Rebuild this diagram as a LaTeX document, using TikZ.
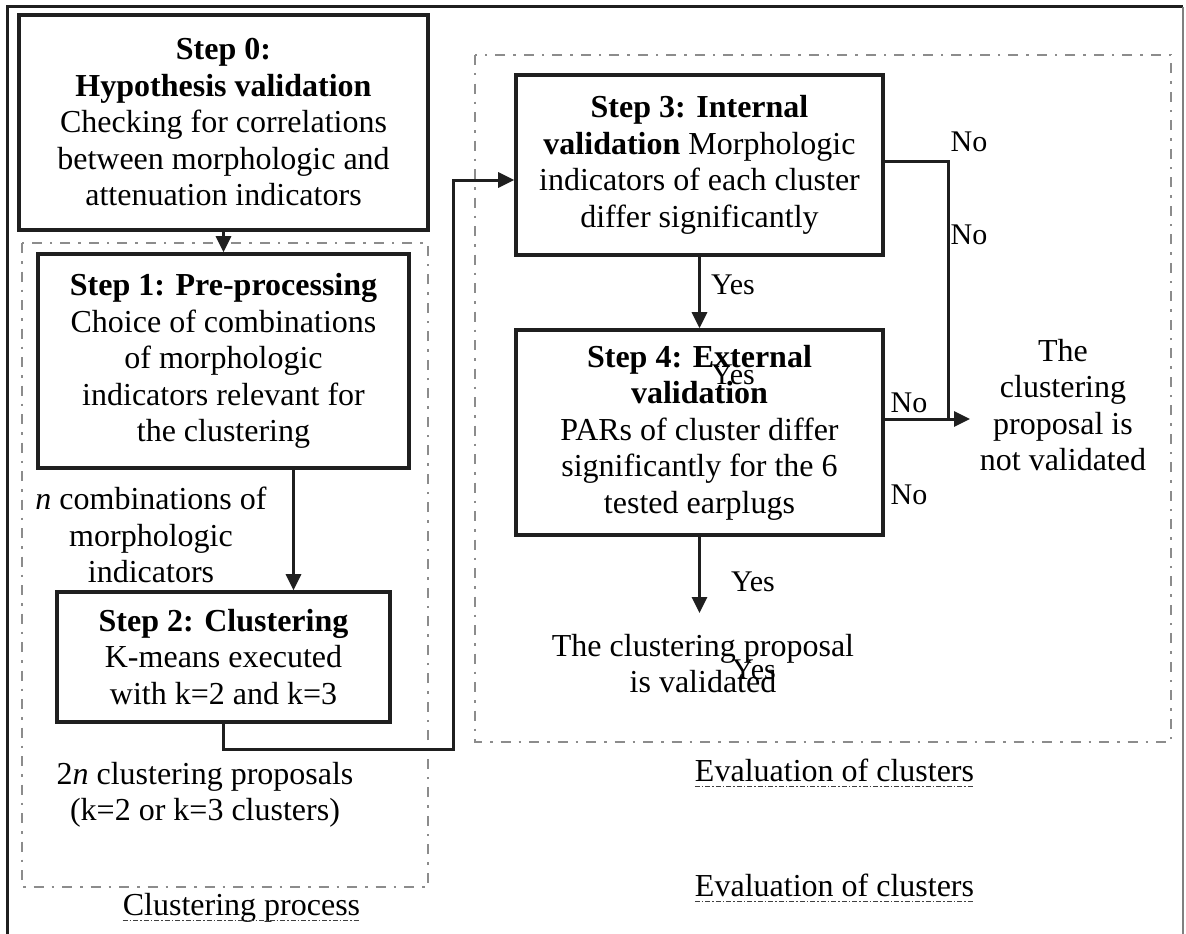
\documentclass[tikz,border=0pt]{standalone}
\usepackage{fontspec}
\setmainfont{Liberation Serif}
\usetikzlibrary{arrows.meta}

\tikzset{
  stepbox/.style={draw=black!88, line width=3.6pt, align=center, inner sep=0pt,
    font=\fontsize{32}{36.5}\selectfont},
  groupbox/.style={draw=black!45, line width=2.4pt,
    dash pattern=on 10pt off 8pt on 2.5pt off 8pt},
  conn/.style={draw=black!88, line width=3pt, -{Triangle[length=16pt,width=15pt]}},
  plain/.style={draw=black!88, line width=3pt},
  txt/.style={align=center, inner sep=0pt, font=\fontsize{32}{36.5}\selectfont},
  lbl/.style={inner sep=0pt, font=\fontsize{30}{34}\selectfont},
  uline/.style={draw=black!75, line width=1pt, dash pattern=on 5pt off 2pt on 1.5pt off 2pt},
}

\begin{document}
\begin{tikzpicture}[x=1pt,y=-1pt]
        \useasboundingbox (0,0) rectangle (1186,934);
        %% Frame
        \draw[black!88, line width=3pt] (7,934) -- (7,7) -- (1183,7);
        \draw[black!50, line width=2pt] (1183,7) -- (1183,934);
        %% Groups
        \draw[groupbox] (22,243) rectangle (428,887);
        \draw[groupbox] (475,55) rectangle (1171,742);
        \node[txt, anchor=base] (clusproc) at (241.5,915) {Clustering process};
        \draw[uline] ([yshift=-5pt]clusproc.base west) -- ([yshift=-5pt]clusproc.base east);
        \node[txt, anchor=base] (evalA) at (834.5,781) {Evaluation of clusters};
        \draw[uline] ([yshift=-5pt]evalA.base west) -- ([yshift=-5pt]evalA.base east);
        \node[txt, anchor=base] (evalB) at (834.5,896) {Evaluation of clusters};
        \draw[uline] ([yshift=-5pt]evalB.base west) -- ([yshift=-5pt]evalB.base east);
        %% Steps
        \node[stepbox, minimum width=409pt, minimum height=215pt] (step0) at (223.5,122.5)
            {\textbf{Step 0:}\\ \textbf{Hypothesis validation}\\ Checking for correlations\\
             between morphologic and\\ attenuation indicators};
        \node[stepbox, minimum width=371pt, minimum height=214pt] (step1) at (223.5,361)
            {\textbf{Step 1: Pre-processing}\\ Choice of combinations\\ of morphologic\\
             indicators relevant for\\ the clustering};
        \node[stepbox, minimum width=333pt, minimum height=130pt] (step2) at (223.5,657)
            {\textbf{Step 2: Clustering}\\ K-means executed\\ with k=2 and k=3};
        \node[stepbox, minimum width=367pt, minimum height=180pt] (step3) at (699.5,165)
            {\textbf{Step 3: Internal}\\ \textbf{validation} Morphologic\\
             indicators of each cluster\\ differ significantly};
        \node[stepbox, minimum width=367pt, minimum height=205pt] (step4) at (699.5,432.5)
            {\textbf{Step 4: External}\\ \textbf{validation}\\ PARs of cluster differ\\
             significantly for the 6\\ tested earplugs};
        %% Texts
        \node[txt] (ncomb) at (151,535) {\textit{n} combinations of\\ morphologic\\ indicators};
        \node[txt] (twon) at (205,795) {2\textit{n} clustering proposals\\ (k=2 or k=3 clusters)};
        \node[txt] (notval) at (1063,405) {The\\ clustering\\ proposal is\\ not validated};
        \node[txt] (val) at (703,663.5) {The clustering proposal\\ is validated};
        %% Labels
        \node[lbl] (noA) at (969,142) {No};
        \node[lbl] (noB) at (969,235) {No};
        \node[lbl] (noC) at (909,403) {No};
        \node[lbl] (noD) at (909,495) {No};
        \node[lbl] (yesA) at (733,285) {Yes};
        \node[lbl] (yesB) at (733,375) {Yes};
        \node[lbl] (yesC) at (753,582) {Yes};
        \node[lbl] (yesD) at (754,670) {Yes};
        %% Connectors
        \coordinate (bend) at (453.5,749);
        \coordinate (join) at (948,419);
        \coordinate (nvtip) at (970,419);
        \coordinate (valtip) at (699.5,613);
        \draw[conn] (step0.south) -- (step1.north);
        \draw[conn] ([xshift=70pt]step1.south) -- ([xshift=70pt]step1.south |- step2.north);
        \draw[conn] (step2.south) |- (bend) |- ([yshift=-15pt]step3.west);
        \draw[conn] (step3.south) -- (step4.north);
        \draw[plain] ([yshift=4pt]step3.east) -| (join);
        \draw[conn] ([yshift=13.5pt]step4.east) -- (nvtip);
        \draw[conn] (step4.south) -- (valtip);
\end{tikzpicture}
\end{document}
